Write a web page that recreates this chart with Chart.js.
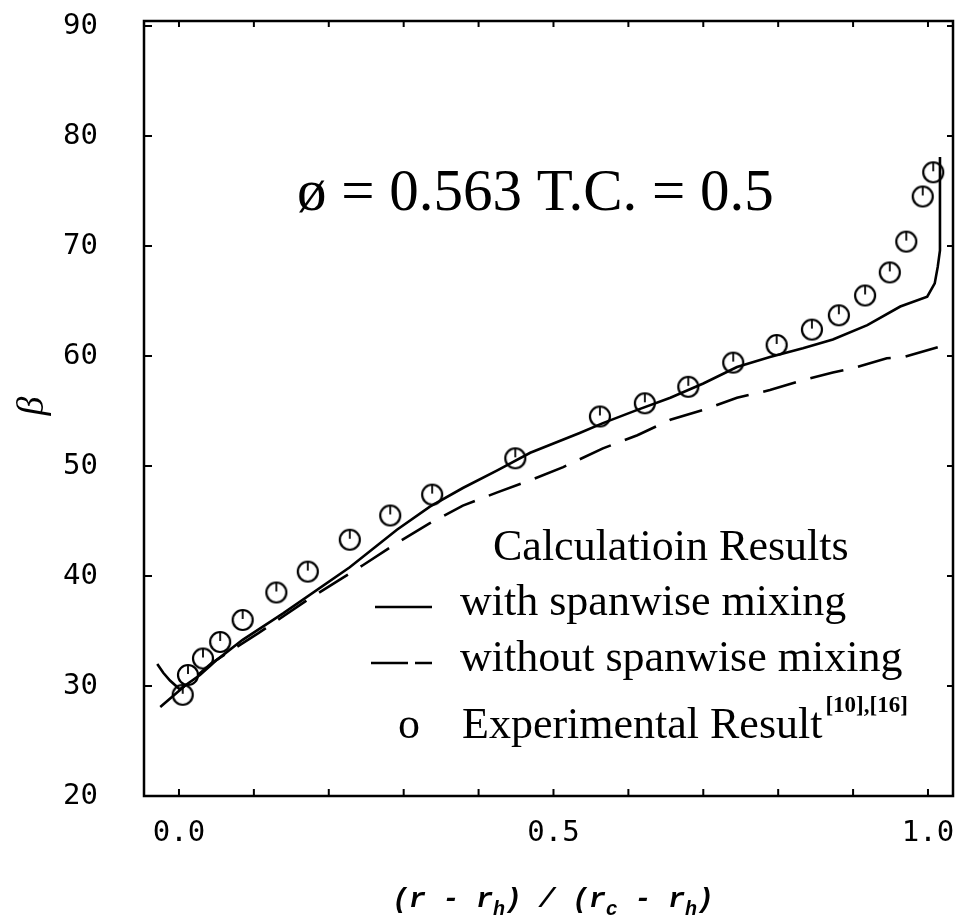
<!DOCTYPE html>
<html>
<head>
<meta charset="utf-8">
<title>Flow angle along span</title>
<script src="https://cdn.jsdelivr.net/npm/chart.js@4.4.0/dist/chart.umd.min.js"></script>
<style>
  html, body { margin: 0; padding: 0; background: #fff; }
  #wrap { width: 965px; height: 923px; }
</style>
</head>
<body>
<div id="wrap"><canvas id="chart" width="965" height="923"></canvas></div>
<script>
// calculation with spanwise mixing (solid line)
const solidX = [-0.029, -0.021, -0.012, 0.001, 0.028, 0.051, 0.085, 0.139, 0.228, 0.291, 0.335, 0.379,
                0.425, 0.469, 0.535, 0.566, 0.612, 0.656, 0.700, 0.745, 0.789, 0.833, 0.873, 0.919,
                0.963, 0.999, 1.009, 1.013, 1.016, 1.016];
const solidY = [32.0, 31.2, 30.5, 29.7, 31.0, 32.4, 34.2, 36.6, 40.8, 44.2, 46.3, 48.0,
                49.6, 51.2, 53.0, 53.9, 55.1, 56.2, 57.5, 59.0, 59.9, 60.7, 61.5, 62.8,
                64.5, 65.4, 66.6, 68.1, 69.6, 78.1];

// calculation without spanwise mixing (dashed line)
const dashX = [-0.025, 0.044, 0.106, 0.171, 0.218, 0.246, 0.291, 0.335, 0.379, 0.425, 0.469, 0.513,
               0.566, 0.612, 0.656, 0.700, 0.745, 0.789, 0.833, 0.873, 0.900, 0.945, 0.967, 1.013];
const dashY = [28.1, 32.1, 34.8, 37.8, 39.8, 41.0, 43.0, 44.8, 46.4, 47.6, 48.7, 49.9,
               51.6, 52.8, 54.2, 55.1, 56.2, 56.9, 57.8, 58.5, 58.9, 59.8, 59.9, 60.8];

// experimental result [10],[16]
const expX = [0.005, 0.012, 0.032, 0.055, 0.085, 0.130, 0.172, 0.228, 0.282, 0.338, 0.449, 0.562,
              0.622, 0.680, 0.740, 0.798, 0.845, 0.881, 0.916, 0.949, 0.971, 0.993, 1.007];
const expY = [29.2, 31.0, 32.5, 34.0, 36.0, 38.5, 40.4, 43.3, 45.5, 47.4, 50.7, 54.5,
              55.7, 57.2, 59.4, 61.0, 62.4, 63.7, 65.5, 67.6, 70.4, 74.5, 76.7];

const yTicks = [20, 30, 40, 50, 60, 70, 80, 90];
const xTicks = [0, 0.1, 0.2, 0.3, 0.4, 0.5, 0.6, 0.7, 0.8, 0.9, 1.0];
const xLabelled = [0, 0.5, 1.0];

const toPts = (xs, ys) => xs.map((x, i) => ({ x: x, y: ys[i] }));

// open circle with a little tick, like the scanned markers
function ringPoint() {
    const c = document.createElement('canvas');
    c.width = 26; c.height = 26;
    const g = c.getContext('2d');
    g.strokeStyle = '#000';
    g.lineWidth = 2.2;
    g.beginPath(); g.arc(13, 13, 10, 0, Math.PI * 2); g.stroke();
    g.lineWidth = 1.8;
    g.beginPath(); g.moveTo(13, 3.5); g.lineTo(13, 12); g.stroke();
    return c;
}

const serif = '"Liberation Serif", "DejaVu Serif", serif';
const mono = '"DejaVu Sans Mono", monospace';
const courier = '"Liberation Mono", "DejaVu Sans Mono", monospace';

const framePlugin = {
    id: 'frame',
    afterDatasetsDraw(chart) {
        const ctx = chart.ctx;
        const a = chart.chartArea;
        const xs = chart.scales.x, ys = chart.scales.y;
        ctx.save();
        ctx.strokeStyle = '#000';
        ctx.lineWidth = 2.5;
        ctx.strokeRect(a.left, a.top, a.right - a.left, a.bottom - a.top);

        // inward ticks
        ctx.lineWidth = 2;
        ctx.beginPath();
        yTicks.forEach(v => {
            const y = ys.getPixelForValue(v);
            ctx.moveTo(a.left, y); ctx.lineTo(a.left + 8, y);
            ctx.moveTo(a.right, y); ctx.lineTo(a.right - 6, y);
        });
        xTicks.forEach(v => {
            const x = xs.getPixelForValue(v);
            ctx.moveTo(x, a.bottom); ctx.lineTo(x, a.bottom - 7);
            ctx.moveTo(x, a.top); ctx.lineTo(x, a.top + 6);
        });
        ctx.stroke();

        // annotation
        ctx.fillStyle = '#000';
        ctx.textBaseline = 'alphabetic';
        ctx.font = '59px ' + serif;
        ctx.fillText('\u00f8 = 0.563 T.C. = 0.5', 297, 210);

        // legend
        ctx.font = '44px ' + serif;
        ctx.fillText('Calculatioin Results', 493, 560);
        ctx.fillText('with spanwise mixing', 460, 615);
        ctx.fillText('without spanwise mixing', 460, 671);
        ctx.fillText('o', 398, 738);
        ctx.fillText('Experimental Result', 462, 738);
        const w = ctx.measureText('Experimental Result').width;
        ctx.font = 'bold 23px ' + serif;
        ctx.fillText('[10],[16]', 462 + w + 3, 712);

        ctx.lineWidth = 2.5;
        ctx.beginPath();
        ctx.moveTo(375, 607); ctx.lineTo(432, 607);
        ctx.stroke();
        ctx.beginPath();
        ctx.moveTo(371, 663); ctx.lineTo(408, 663);
        ctx.moveTo(415, 663); ctx.lineTo(432, 663);
        ctx.stroke();

        // y title (beta), rotated
        ctx.save();
        ctx.translate(33, 406);
        ctx.rotate(-Math.PI / 2);
        ctx.font = 'italic 38px ' + serif;
        ctx.textAlign = 'center';
        ctx.textBaseline = 'middle';
        ctx.fillText('\u03b2', 0, 0);
        ctx.restore();

        // x title with subscripts
        const parts = [['(r - r', 0], ['h', 1], [') / (r', 0], ['c', 1], [' - r', 0], ['h', 1], [')', 0]];
        const big = 'italic bold 28px ' + courier, small = 'italic bold 20px ' + courier;
        let total = 0;
        parts.forEach(p => { ctx.font = p[1] ? small : big; total += ctx.measureText(p[0]).width; });
        let x = 553 - total / 2;
        parts.forEach(p => {
            ctx.font = p[1] ? small : big;
            ctx.fillText(p[0], x, p[1] ? 915 : 907);
            x += ctx.measureText(p[0]).width;
        });
        ctx.restore();
    }
};

new Chart(document.getElementById('chart'), {
    type: 'scatter',
    data: {
        datasets: [{
            label: 'with spanwise mixing',
            data: toPts(solidX, solidY),
            showLine: true,
            borderColor: '#000',
            borderWidth: 2.6,
            pointRadius: 0,
            tension: 0
        }, {
            label: 'without spanwise mixing',
            data: toPts(dashX, dashY),
            showLine: true,
            borderColor: '#000',
            borderWidth: 2.6,
            borderDash: [34, 15],
            pointRadius: 0,
            tension: 0
        }, {
            label: 'Experimental Result',
            data: toPts(expX, expY),
            showLine: false,
            pointStyle: ringPoint(),
            pointRadius: 11
        }]
    },
    options: {
        responsive: false,
        animation: false,
        devicePixelRatio: 1,
        layout: { padding: { left: 0, right: 12, top: 21, bottom: 0 } },
        plugins: {
            legend: { display: false },
            tooltip: { enabled: false }
        },
        scales: {
            x: {
                type: 'linear',
                min: -0.0467,
                max: 1.0334,
                afterBuildTicks: s => { s.ticks = xTicks.map(v => ({ value: v })); },
                afterFit: s => { s.height = 127; s.paddingLeft = 0; s.paddingRight = 0; },
                grid: { display: false, drawTicks: false },
                border: { display: false },
                ticks: {
                    autoSkip: false,
                    maxRotation: 0,
                    padding: 20,
                    color: '#000',
                    font: { family: mono, size: 29 },
                    callback: v => xLabelled.some(t => Math.abs(t - v) < 1e-6) ? v.toFixed(1) : ''
                }
            },
            y: {
                type: 'linear',
                min: 20,
                max: 90.4545,
                afterBuildTicks: s => { s.ticks = yTicks.map(v => ({ value: v })); },
                afterFit: s => { s.width = 144; s.paddingTop = 0; s.paddingBottom = 0; },
                grid: { display: false, drawTicks: false },
                border: { display: false },
                ticks: {
                    autoSkip: false,
                    padding: 46,
                    color: '#000',
                    font: { family: mono, size: 29 }
                }
            }
        }
    },
    plugins: [framePlugin]
});
</script>
</body>
</html>
